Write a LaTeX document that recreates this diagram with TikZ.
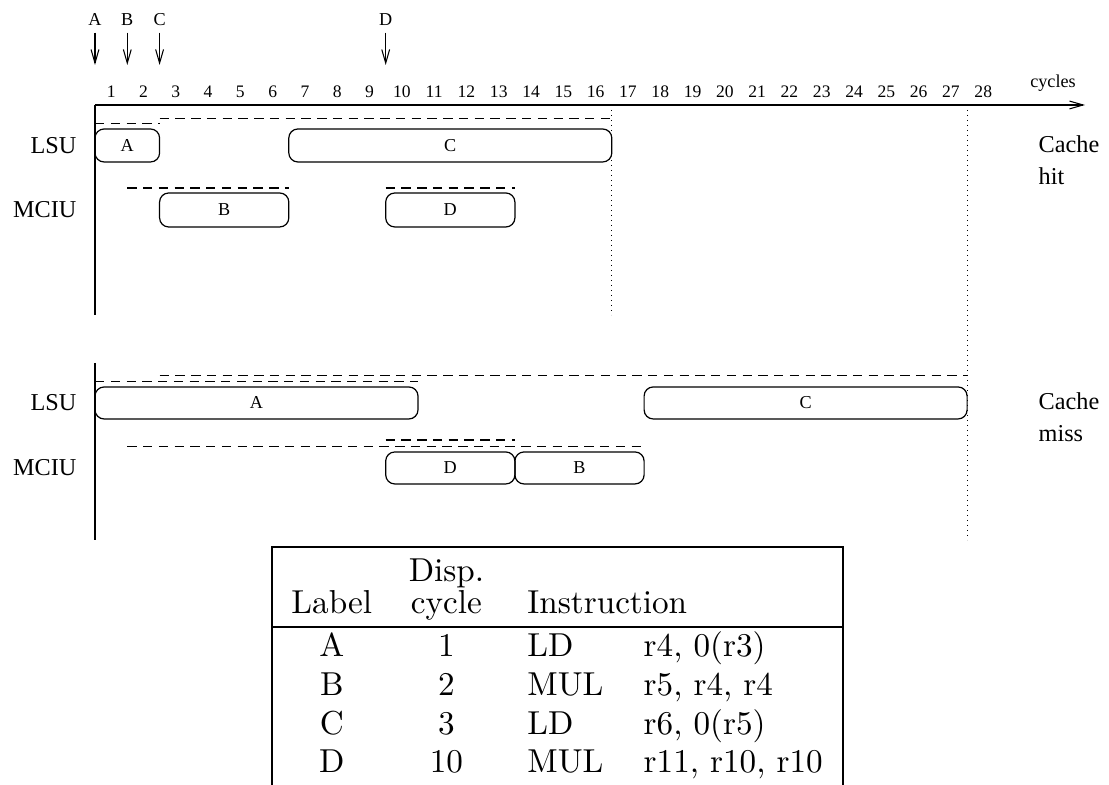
\documentclass[tikz,border=0pt]{standalone}
\usepackage{fontspec}
\newfontfamily\figfont{Liberation Serif}
\usetikzlibrary{arrows.meta}

\tikzset{
  unitbox/.style={line width=0.4pt, rounded corners=3pt},
  boxlabel/.style={font=\figfont\fontsize{6}{7}\selectfont, inner sep=0pt},
  unitname/.style={font=\figfont\fontsize{8}{9}\selectfont, anchor=east, inner sep=0pt},
  lane/.style={line width=0.5pt, dash pattern=on 3.1pt off 2.1pt},
  guide/.style={line width=0.4pt, dash pattern=on 0.4pt off 1.25pt},
  tick/.style={font=\figfont\fontsize{5.8}{7}\selectfont, inner sep=0pt},
  barb/.style={-{Straight Barb[length=4.5pt,width=2.6pt]}},
  cachelabel/.style={font=\figfont\fontsize{8}{10.5}\selectfont, align=left, anchor=north west, inner sep=0pt},
  tabtext/.style={font=\fontsize{10.95}{13}\selectfont, inner sep=0pt, anchor=base},
  tabrule/.style={line width=0.7pt},
}

\begin{document}
\begin{tikzpicture}[x=10.66pt, y=-0.33pt, line width=0.35pt]
\useasboundingbox (-2.941,0) rectangle (31.393,785);
%\draw[gray,very thin] (0,0) grid[xstep=1,ystep=100] (28,785);

% dispatch points
\foreach \l/\c in {A/0,B/1,C/2,D/9} {
  \node[boxlabel, inner sep=2pt] (d\l) at (\c,20) {\l};
  \coordinate (e\l) at (\c,65);
  \draw[barb] (d\l) -- (e\l);
}

% time axis
\coordinate (origin) at (0,105);
\coordinate (axend) at (30.65,105);
\draw[barb] (origin) -- (axend);
\foreach \n in {1,...,28}
  \node[tick] (t\n) at (\n-0.5,92) {\n};
\node[tick, font=\figfont\fontsize{6}{7}\selectfont] (cycles) at (29.66,83) {cycles};

% cache hit
\draw (0,105) -- (0,315);
\draw[guide] (16,105) -- (16,315);
\draw[guide] (27,105) -- (27,540);
\node[unitname] (hitlsu) at (-0.56,145.5) {LSU};
\node[unitname] (hitmciu) at (-0.56,210) {MCIU};
\draw[lane] (0,123.3) -- (2,123.3);
\draw[lane] (2,118.3) -- (16,118.3);
\draw[lane] (1,188) -- (6,188);
\draw[lane] (9,188) -- (13,188);
\draw[unitbox] (0,129) rectangle (2,162);
\node[boxlabel] (hitA) at (1,145.5) {A};
\draw[unitbox] (6,129) rectangle (16,162);
\node[boxlabel] (hitC) at (11,145.5) {C};
\draw[unitbox] (2,193) rectangle (6,227);
\node[boxlabel] (hitB) at (4,210) {B};
\draw[unitbox] (9,193) rectangle (13,227);
\node[boxlabel] (hitD) at (11,210) {D};
\node[cachelabel] (hit) at (29.2,135) {Cache\\hit};

% cache miss
\draw (0,363) -- (0,540);
\node[unitname] (misslsu) at (-0.56,403) {LSU};
\node[unitname] (missmciu) at (-0.56,468) {MCIU};
\draw[lane] (0,381.7) -- (10,381.7);
\draw[lane] (2,375.7) -- (27,375.7);
\draw[lane] (1,446.7) -- (17,446.7);
\draw[lane] (9,440) -- (13,440);
\draw[unitbox] (0,387) rectangle (10,419);
\node[boxlabel] (missA) at (5,403) {A};
\draw[unitbox] (17,387) rectangle (27,419);
\node[boxlabel] (missC) at (22,403) {C};
\draw[unitbox] (9,452) rectangle (13,484);
\node[boxlabel] (missD) at (11,468) {D};
\draw[unitbox] (13,452) rectangle (17,484);
\node[boxlabel] (missB) at (15,468) {B};
\node[cachelabel] (miss) at (29.2,392) {Cache\\miss};

% instruction table
\draw[tabrule] (5.47,785) -- (5.47,547) -- (23.16,547) -- (23.16,785);
\draw[tabrule] (5.47,627) -- (23.16,627);
\node[tabtext] (hdisp) at (10.88,582) {Disp.};
\node[tabtext] (hlabel) at (7.33,614) {Label};
\node[tabtext] (hcycle) at (10.88,614) {cycle};
\node[tabtext, anchor=base west] (hinstr) at (13.37,614) {Instruction};
\foreach \lab/\cyc/\op/\args/\yb in {A/1/LD/{r4, 0(r3)}/657, B/2/MUL/{r5, r4, r4}/696,
    C/3/LD/{r6, 0(r5)}/735, D/10/MUL/{r11, r10, r10}/773} {
  \node[tabtext] (lab\lab) at (7.33,\yb) {\lab};
  \node[tabtext] (cyc\lab) at (10.88,\yb) {\cyc};
  \node[tabtext, anchor=base west] (op\lab) at (13.37,\yb) {\op};
  \node[tabtext, anchor=base west] (arg\lab) at (16.97,\yb) {\args};
}
\end{tikzpicture}
\end{document}
